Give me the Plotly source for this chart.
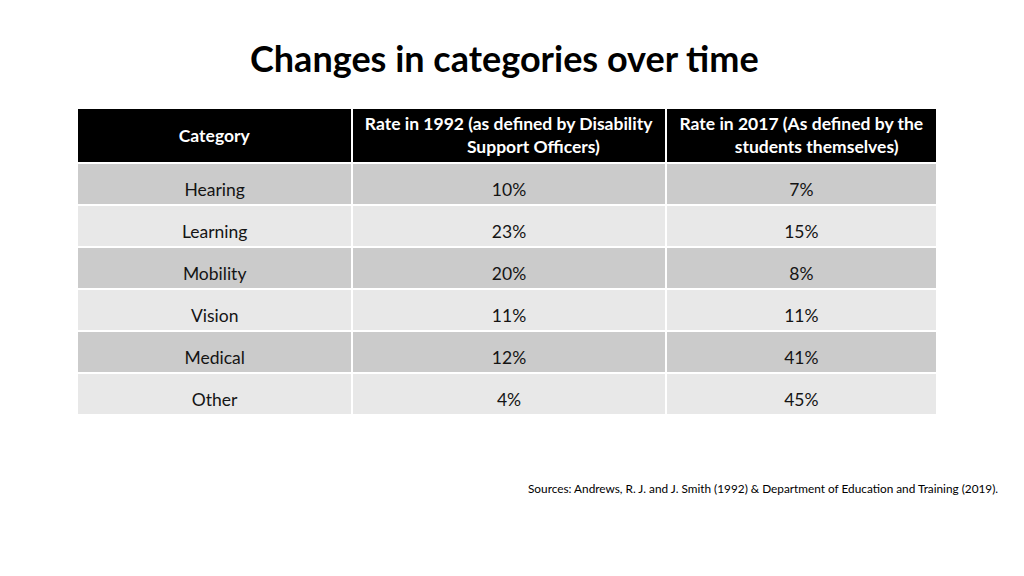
import plotly.graph_objects as go

categories = ["Hearing", "Learning", "Mobility", "Vision", "Medical", "Other"]
rate_1992 = ["10%", "23%", "20%", "11%", "12%", "4%"]
rate_2017 = ["7%", "15%", "8%", "11%", "41%", "45%"]
header_lines = [
    ["Category"],
    ["Rate in 1992 (as defined by Disability", "Support Officers)"],
    ["Rate in 2017 (As defined by the", "students themselves)"],
]
title = "Changes in categories over time"
source = "Sources: Andrews, R. J. and J. Smith (1992) & Department of Education and Training (2019)."

dark = "#cbcbcb"
light = "#e8e8e8"
row_colors = [dark if i % 2 == 0 else light for i in range(len(categories))]

W, H = 1024, 576
OFF = 8  # page body margin offset
FONT = "Lato"
HDR_SIZE = 17.5
CELL_SIZE = 17.5
HDR_H = 55
ROW_H = 42
TEXT_SHIFT = 12   # cell text sits lower inside its row in the reference
HDR_SHIFT = -3    # header text block offset
LINE_H = 23       # header line height, px
CLEAR = "rgba(0,0,0,0)"
TOP = 108
X0, X1 = 77, 937
colwidths = [275, 313, 271]


def center_lines(lines):
    # plotly table left-aligns lines inside a multi-line block; pad shorter lines
    longest = max(len(s) for s in lines)
    out = []
    for s in lines:
        pad = int(round((longest - len(s)) * 1.14))
        out.append("\u00a0" * pad + s)
    return "<b>" + "<br>".join(out) + "</b>"


n_cols = len(header_lines)
n_rows = len(categories)
max_lines = max(len(l) for l in header_lines)


def px_x(x):
    return (x - OFF) / W


def px_y(y):
    return 1 - (y - OFF) / H


def domain(top, height):
    return dict(x=[px_x(X0), px_x(X1)], y=[px_y(top + height), px_y(top)])


fig = go.Figure()

# 1) background table: fills and white grid lines
fig.add_trace(go.Table(
    domain=domain(TOP, HDR_H + ROW_H * n_rows + 6),
    columnwidth=colwidths,
    header=dict(
        values=[""] * n_cols,
        fill_color="#000000",
        line=dict(color="white", width=2),
        height=HDR_H,
    ),
    cells=dict(
        values=[[""] * n_rows] * n_cols,
        fill_color=[row_colors] * n_cols,
        line=dict(color="white", width=2),
        height=ROW_H,
    ),
))

# 2) header text, one transparent table per line count (vertically centred)
for n_lines in sorted(set(len(l) for l in header_lines)):
    vals = [center_lines(l) if len(l) == n_lines else "" for l in header_lines]
    shift = HDR_SHIFT + (max_lines - n_lines) * LINE_H / 2
    fig.add_trace(go.Table(
        domain=domain(TOP + shift, 80),
        columnwidth=colwidths,
        header=dict(
            values=vals,
            fill_color=CLEAR,
            line=dict(color=CLEAR, width=0),
            font=dict(family=FONT, size=HDR_SIZE, color="white"),
            align="center",
        ),
        cells=dict(values=[[""]] * n_cols, fill_color=CLEAR,
                   line=dict(color=CLEAR, width=0), height=1),
    ))

# 3) cell text table: same geometry as background, shifted down slightly
fig.add_trace(go.Table(
    domain=domain(TOP + TEXT_SHIFT, HDR_H + ROW_H * n_rows + 6),
    columnwidth=colwidths,
    header=dict(
        values=[""] * n_cols,
        fill_color=CLEAR,
        line=dict(color=CLEAR, width=0),
        height=HDR_H,
    ),
    cells=dict(
        values=[categories, rate_1992, rate_2017],
        fill_color=CLEAR,
        line=dict(color=CLEAR, width=0),
        font=dict(family=FONT, size=CELL_SIZE, color="#141414"),
        align="center",
        height=ROW_H,
    ),
))

fig.add_annotation(
    text="<b>" + title + "</b>",
    xref="paper", yref="paper", x=px_x(504), y=px_y(58),
    xanchor="center", yanchor="middle", showarrow=False,
    font=dict(family=FONT, size=36, color="#000000"),
)
fig.add_annotation(
    text=source,
    xref="paper", yref="paper", x=px_x(1000), y=px_y(488),
    xanchor="right", yanchor="middle", showarrow=False,
    font=dict(family=FONT, size=11.8, color="#000000"),
)

fig.update_layout(
    width=W, height=H,
    margin=dict(l=0, r=0, t=0, b=0),
    paper_bgcolor="white", plot_bgcolor="white",
)

fig.write_html("out.html")
